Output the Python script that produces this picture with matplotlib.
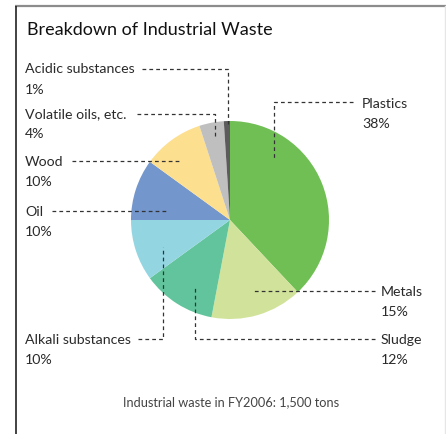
import matplotlib.pyplot as plt

plt.rcParams['font.family'] = ['Lato', 'DejaVu Sans']

W, H = 446, 434

# waste categories, clockwise from 12 o'clock
categories = ['Plastics', 'Metals', 'Sludge', 'Alkali substances', 'Oil',
              'Wood', 'Volatile oils, etc.', 'Acidic substances']
shares = [38, 15, 12, 10, 10, 10, 4, 1]
colors = ['#70bf54', '#d1e39b', '#62c49c', '#93d6e2', '#7396cc',
          '#fddf90', '#bfbfbf', '#5c5c5c']

title = 'Breakdown of Industrial Waste'
footer = 'Industrial waste in FY2006: 1,500 tons'

# label positions (x, baseline y in pixels from top, alignment)
label_pos = {
    'Acidic substances': (25, 73, 'left'),
    'Volatile oils, etc.': (25, 118, 'left'),
    'Wood': (25, 166, 'left'),
    'Oil': (25, 216, 'left'),
    'Alkali substances': (25, 344, 'left'),
    'Plastics': (362, 108, 'left'),
    'Metals': (381, 296, 'left'),
    'Sludge': (381, 344, 'left'),
}

# leader lines as pixel polylines
leaders = {
    'Acidic substances': [(142, 69), (228, 69), (228, 124)],
    'Volatile oils, etc.': [(137, 114), (215, 114), (215, 138)],
    'Wood': [(72, 161), (182, 161)],
    'Oil': [(52, 211), (167, 211)],
    'Alkali substances': [(138, 339), (163, 339), (163, 247)],
    'Plastics': [(353, 102), (274, 102), (274, 159)],
    'Metals': [(375, 291), (253, 291)],
    'Sludge': [(375, 339), (195, 339), (195, 288)],
}

fig = plt.figure(figsize=(W / 100, H / 100), dpi=100)
ax = fig.add_axes([0, 0, 1, 1])

cx, cy, r = 230, 220, 99
ax.pie(shares, colors=colors, startangle=90, counterclock=False,
       center=(cx, H - cy), radius=r, wedgeprops=dict(linewidth=0))

ax.set_xlim(0, W)
ax.set_ylim(0, H)
ax.set_aspect('auto')
ax.axis('off')

# frame: grey top rule and dark left rule
ax.plot([15, W], [H - 6, H - 6], color='#8c8c8c', lw=1.6, solid_capstyle='butt')
ax.plot([15.5, 15.5], [0, H - 6], color='#222222', lw=1.2, solid_capstyle='butt')
ax.plot([W - 1, W - 1], [0, H - 6], color='#e6e6e6', lw=1)

ax.text(27, H - 35, title, fontsize=13, color='#111111', va='baseline')

for name, val in zip(categories, shares):
    x, yb, ha = label_pos[name]
    ax.text(x, H - yb, name, fontsize=10.2, color='#2a2a2a', va='baseline', ha=ha)
    ax.text(x, H - yb - 20.5, f'{val}%', fontsize=10.2, color='#2a2a2a',
            va='baseline', ha=ha)
    pts = leaders[name]
    ax.plot([p[0] for p in pts], [H - p[1] for p in pts], color='#333333',
            lw=0.9, linestyle=(0, (3, 2.5)))

ax.text(231, H - 406, footer, fontsize=9.2, color='#444444', ha='center',
        va='baseline')

fig.savefig('out.png', dpi=100)
